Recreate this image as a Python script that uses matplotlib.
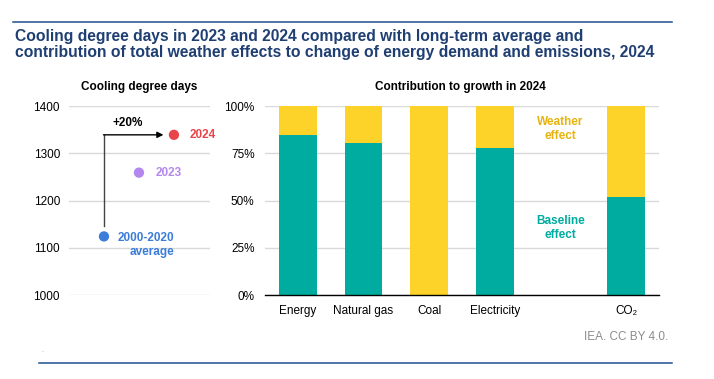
import matplotlib
matplotlib.use('Agg')
import matplotlib.pyplot as plt
import numpy as np

plt.rcParams['font.family'] = ['Liberation Sans', 'DejaVu Sans']

# cooling degree days
cdd_labels = ['2000-2020\naverage', '2023', '2024']
cdd_values = [1124, 1259, 1339]
cdd_colors = ['#3B7DD8', '#B487EE', '#E8454A']

# contribution to growth in 2024 (share, %)
categories = ['Energy', 'Natural gas', 'Coal', 'Electricity', '', 'CO\u2082']
baseline = np.array([84.5, 80.5, 0, 78, 0, 52])
weather = np.array([15.5, 19.5, 100, 22, 0, 48])

teal = '#00AB9F'
yellow = '#FDD32A'
grid_c = '#D9D9D9'
navy = '#1F3F73'

fig = plt.figure(figsize=(7.14, 3.79), dpi=100)

# frame lines and title
fig.add_artist(plt.Line2D([0.0178, 0.9408], [0.941, 0.941], color='#1F4E8C', lw=1.1))
fig.add_artist(plt.Line2D([0.055, 0.9408], [0.043, 0.043], color='#1F4E8C', lw=1.1))
fig.text(0.021, 0.8826,
         'Cooling degree days in 2023 and 2024 compared with long-term average and\n'
         'contribution of total weather effects to change of energy demand and emissions, 2024',
         fontsize=11.25, fontweight='bold', color=navy, va='center', ha='left', linespacing=1.16)
fig.text(0.0575, 0.071, '.', fontsize=5, color='#999999')
fig.text(0.936, 0.112, 'IEA. CC BY 4.0.', fontsize=8.5, color='#8C8C8C', ha='right', va='center')

# ---- left panel
ax1 = fig.add_axes([0.0966, 0.2216, 0.1975, 0.4987])
ax1.set_xlim(-1, 3.03)
ax1.set_ylim(1000, 1400)
ax1.set_yticks(np.arange(1000, 1401, 100))
ax1.grid(axis='y', color=grid_c, lw=1)
ax1.set_axisbelow(True)
for s in ax1.spines.values():
    s.set_visible(False)
ax1.set_xticks([])
ax1.tick_params(axis='y', length=0, pad=6.5, labelsize=8.5)

xs = np.arange(len(cdd_values))
ax1.scatter(xs, cdd_values, s=55, c=cdd_colors, zorder=3, linewidths=0)

# +20% arrow
ax1.plot([xs[0], xs[0]], [cdd_values[0] + 21, cdd_values[2]], color='#444444', lw=1, zorder=2)
ax1.annotate('', xy=(1.7, cdd_values[2]), xytext=(xs[0] - 0.015, cdd_values[2]),
             arrowprops=dict(arrowstyle='-|>', color='black', lw=1, mutation_scale=9,
                             shrinkA=0, shrinkB=0))
ax1.text(0.69, cdd_values[2] + 12, '+20%', fontsize=8.5, fontweight='bold',
         ha='center', va='bottom')

ax1.annotate(cdd_labels[2], (xs[2], cdd_values[2]), xytext=(11, 0), textcoords='offset points',
             color=cdd_colors[2], fontsize=8.5, fontweight='bold', va='center', ha='left')
ax1.annotate(cdd_labels[1], (xs[1], cdd_values[1]), xytext=(12, 0), textcoords='offset points',
             color=cdd_colors[1], fontsize=8.5, fontweight='bold', va='center', ha='left')
ax1.annotate(cdd_labels[0], (xs[0], cdd_values[0]), xytext=(50.5, -6.3), textcoords='offset points',
             color=cdd_colors[0], fontsize=8.5, fontweight='bold', va='center', ha='right',
             multialignment='right', linespacing=1.2)
fig.text(0.1947, 0.770, 'Cooling degree days', fontsize=8.5, fontweight='bold',
         ha='center', va='center')

# ---- right panel
ax2 = fig.add_axes([0.3711, 0.2216, 0.5518, 0.4987])
pos = np.arange(len(categories))
ax2.bar(pos, baseline / 100, width=0.575, color=teal, zorder=3)
ax2.bar(pos, weather / 100, bottom=baseline / 100, width=0.575, color=yellow, zorder=3)
ax2.set_xlim(-0.503, 5.503)
ax2.set_ylim(0, 1)
ax2.set_yticks([0, 0.25, 0.5, 0.75, 1])
ax2.set_yticklabels(['0%', '25%', '50%', '75%', '100%'])
ax2.set_xticks(pos)
ax2.set_xticklabels(categories)
ax2.grid(axis='y', color=grid_c, lw=1)
ax2.set_axisbelow(True)
for k in ['top', 'right', 'left']:
    ax2.spines[k].set_visible(False)
ax2.spines['bottom'].set_color('black')
ax2.spines['bottom'].set_linewidth(1)
ax2.spines['bottom'].set_zorder(4)
ax2.tick_params(axis='y', length=0, pad=7.5, labelsize=8.5)
ax2.tick_params(axis='x', length=0, pad=7, labelsize=8.5)

ax2.text(4, 0.88, 'Weather\neffect', color='#E6B40C', fontsize=8.5, fontweight='bold',
         ha='center', va='center', linespacing=1.2)
ax2.text(4, 0.353, 'Baseline\neffect', color=teal, fontsize=8.5, fontweight='bold',
         ha='center', va='center', linespacing=1.2)
fig.text(0.6443, 0.770, 'Contribution to growth in 2024', fontsize=8.5, fontweight='bold',
         ha='center', va='center')

fig.savefig('out.png', dpi=100)
